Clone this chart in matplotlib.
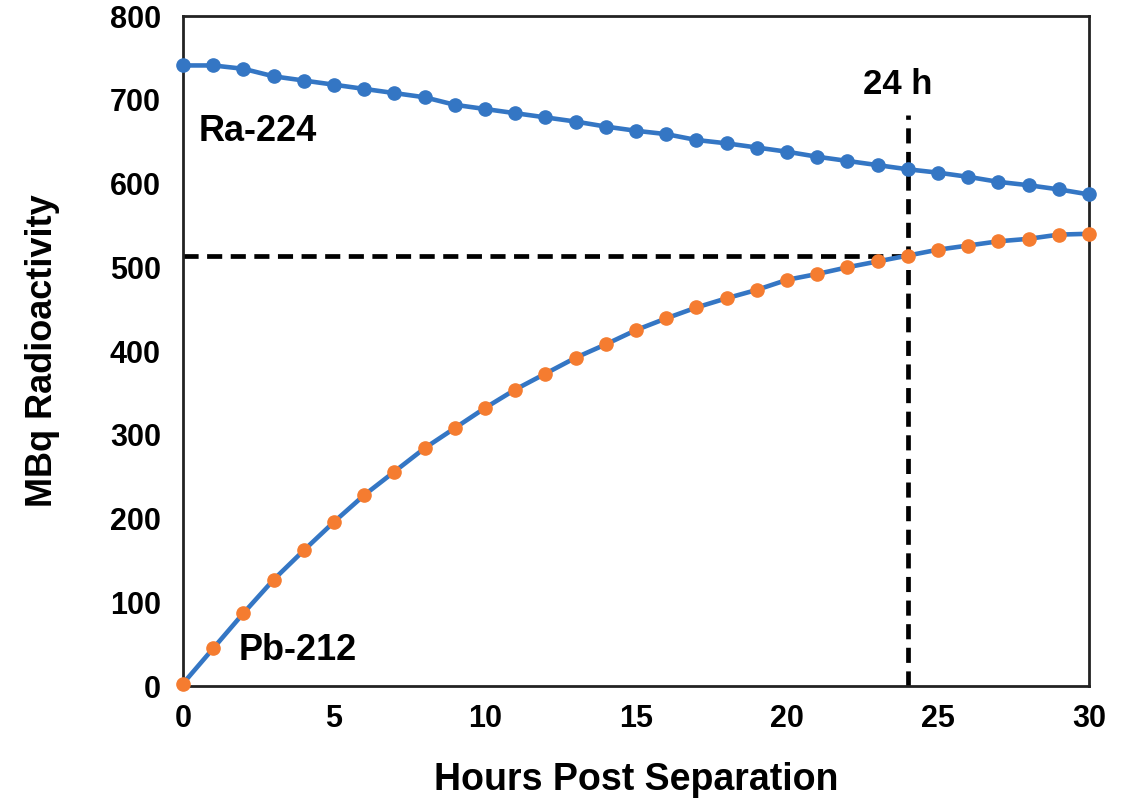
import matplotlib
matplotlib.use("Agg")
import matplotlib.pyplot as plt

plt.rcParams["font.family"] = ["Liberation Sans", "DejaVu Sans"]
plt.rcParams["font.weight"] = "bold"

hours = list(range(31))
ra224 = [741, 741, 737, 728, 723, 718, 713, 708, 703, 694,
         689, 684, 679, 674, 668, 663, 659, 652, 648, 643,
         638, 632, 627, 622, 617, 613, 608, 602, 598, 593, 587]
pb212 = [3, 45, 87, 127, 162, 196, 228, 256, 284, 308,
         332, 354, 373, 392, 408, 425, 439, 452, 463, 473,
         485, 492, 500, 507, 514, 521, 526, 531, 534, 539, 540]
marker_hour = 24
marker_value = 514

BLUE = "#3476c4"
ORANGE = "#f57c30"
DASH = (0, (3.2, 1.8))

fig = plt.figure(figsize=(11.32, 8.02), dpi=100)
ax = fig.add_axes([0.1617, 0.1446, 0.8003, 0.8354])

ax.plot(hours, ra224, color=BLUE, lw=3.3, marker="o", ms=9.5,
        mfc=BLUE, mec=BLUE, zorder=3, clip_on=False)
ax.plot(hours, pb212, color=BLUE, lw=3.3, marker="o", ms=9.5,
        mfc=ORANGE, mec=ORANGE, zorder=3, clip_on=False)

# 24 h guide lines
ax.plot([0, marker_hour], [marker_value, marker_value], color="black",
        lw=3.4, ls=DASH, zorder=2)
ax.plot([marker_hour, marker_hour], [0, 682], color="black",
        lw=3.4, ls=DASH, zorder=2)

ax.text(23.65, 718, "24 h", fontsize=25, fontweight="bold", ha="center", va="center")
ax.text(0.5, 662, "Ra-224", fontsize=26, fontweight="bold", ha="left", va="center")
ax.text(1.85, 43, "Pb-212", fontsize=26, fontweight="bold", ha="left", va="center")

ax.set_xlim(0, 30)
ax.set_ylim(0, 800)
ax.set_xticks(range(0, 31, 5))
ax.set_yticks(range(0, 801, 100))
ax.tick_params(length=0, labelsize=22)
ax.tick_params(axis="y", pad=16)
ax.tick_params(axis="x", pad=13)
for lab in ax.get_xticklabels() + ax.get_yticklabels():
    lab.set_fontweight("bold")
for spine in ax.spines.values():
    spine.set_linewidth(2)
    spine.set_color("#222222")

ax.set_xlabel("Hours Post Separation", fontsize=27, fontweight="bold", labelpad=20)
ax.set_ylabel("MBq Radioactivity", fontsize=26, fontweight="bold", labelpad=36)

fig.savefig("out.png", dpi=100)
